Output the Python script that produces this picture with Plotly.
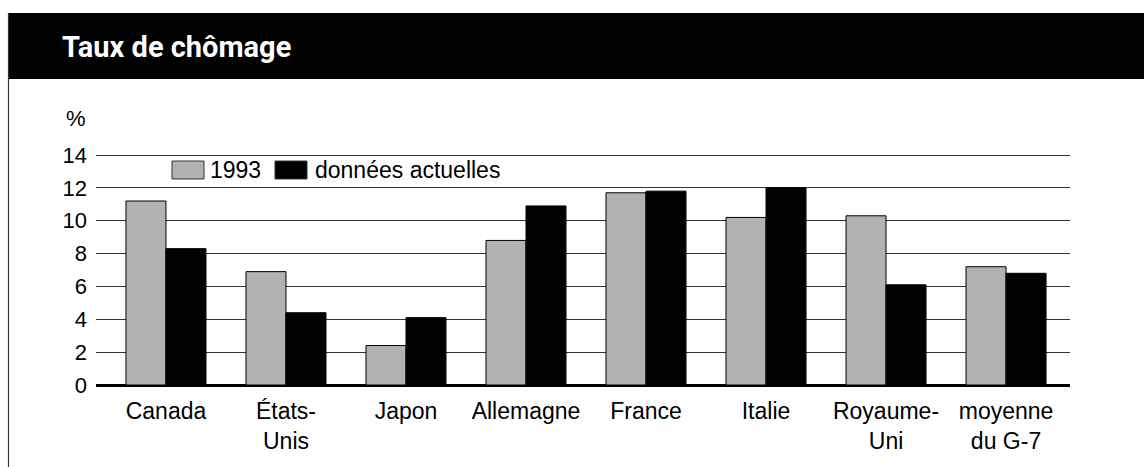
import plotly.graph_objects as go

# Données
pays = ["Canada", "États-<br>Unis", "Japon", "Allemagne", "France", "Italie",
        "Royaume-<br>Uni", "moyenne<br>du G-7"]
taux_1993 = [11.2, 6.9, 2.4, 8.8, 11.7, 10.2, 10.3, 7.2]
taux_actuels = [8.3, 4.4, 4.1, 10.9, 11.8, 12.0, 6.1, 6.8]
y_ticks = [0, 2, 4, 6, 8, 10, 12, 14]

COLOR_GRIS = "#b2b2b2"
COLOR_NOIR = "#000000"
FONT_FAMILY = "Liberation Sans, Arial, sans-serif"
SIZE_TICK = 22
SIZE_TEXT = 23

# Marges / zone de tracé (px)
W, H = 1144, 467
L, R, T, B = 96, 74, 148, 82
PW = W - L - R
PH = H - T - B
# 14 % doit tomber à ~155 px du haut
Y_MAX = PH / ((H - B - 155) / 14)


def px_x(px):
    return (px - L) / PW


def px_y(py):
    return (H - B - py) / PH


fig = go.Figure()

fig.add_trace(go.Bar(
    x=pays,
    y=taux_1993,
    name="1993",
    marker=dict(color=COLOR_GRIS, line=dict(color="black", width=1)),
    showlegend=False,
))

fig.add_trace(go.Bar(
    x=pays,
    y=taux_actuels,
    name="données actuelles",
    marker=dict(color=COLOR_NOIR, line=dict(color="black", width=1)),
    showlegend=False,
))

# Bandeau du titre et bordure gauche
fig.add_shape(type="rect", xref="paper", yref="paper",
              x0=px_x(8), x1=px_x(1144), y0=px_y(79), y1=px_y(13),
              fillcolor="black", line=dict(width=0), layer="above")
fig.add_shape(type="line", xref="paper", yref="paper",
              x0=px_x(8.5), x1=px_x(8.5), y0=px_y(467), y1=px_y(13),
              line=dict(color="#333333", width=1.2))

fig.add_annotation(
    xref="paper", yref="paper", x=px_x(60), y=px_y(47),
    xanchor="left", yanchor="middle", showarrow=False,
    text="<b>Taux de chômage</b>",
    font=dict(family="Roboto, Liberation Sans, sans-serif",
              size=29, color="white"),
)

fig.add_annotation(
    xref="paper", yref="paper", x=px_x(76), y=px_y(119),
    xanchor="center", yanchor="middle", showarrow=False,
    text="%", font=dict(family=FONT_FAMILY, size=SIZE_TICK, color="black"),
)

# Légende
for x0, x1, col, label, xt in [
    (172, 204, COLOR_GRIS, "1993", 208),
    (275, 307, COLOR_NOIR, "données actuelles", 313),
]:
    fig.add_shape(type="rect", xref="paper", yref="paper",
                  x0=px_x(x0), x1=px_x(x1), y0=px_y(179), y1=px_y(161),
                  fillcolor=col, line=dict(color="#333333", width=1))
    fig.add_annotation(
        xref="paper", yref="paper", x=px_x(xt), y=px_y(170),
        xanchor="left", yanchor="middle", showarrow=False,
        text=label, font=dict(family=FONT_FAMILY, size=SIZE_TEXT, color="black"),
    )

fig.update_layout(
    width=W,
    height=H,
    barmode="group",
    bargap=1 / 3,
    bargroupgap=0,
    plot_bgcolor="white",
    paper_bgcolor="white",
    margin=dict(l=L, r=R, t=T, b=B, pad=0),
    font=dict(family=FONT_FAMILY, size=SIZE_TICK, color="black"),
    xaxis=dict(
        range=[-0.583, 7.533],
        showgrid=False,
        showline=False,
        ticks="",
        ticklabelstandoff=10,
        tickfont=dict(size=SIZE_TEXT),
    ),
    yaxis=dict(
        range=[0, Y_MAX],
        tickvals=y_ticks,
        showgrid=True,
        gridcolor="#333333",
        gridwidth=1,
        zeroline=True,
        zerolinecolor="black",
        zerolinewidth=3,
        ticks="",
        ticklabelstandoff=8,
        tickfont=dict(size=SIZE_TICK),
    ),
)

fig.write_html("out.html", config=dict(displayModeBar=False),
               post_script="document.body.style.margin = '0px';")
